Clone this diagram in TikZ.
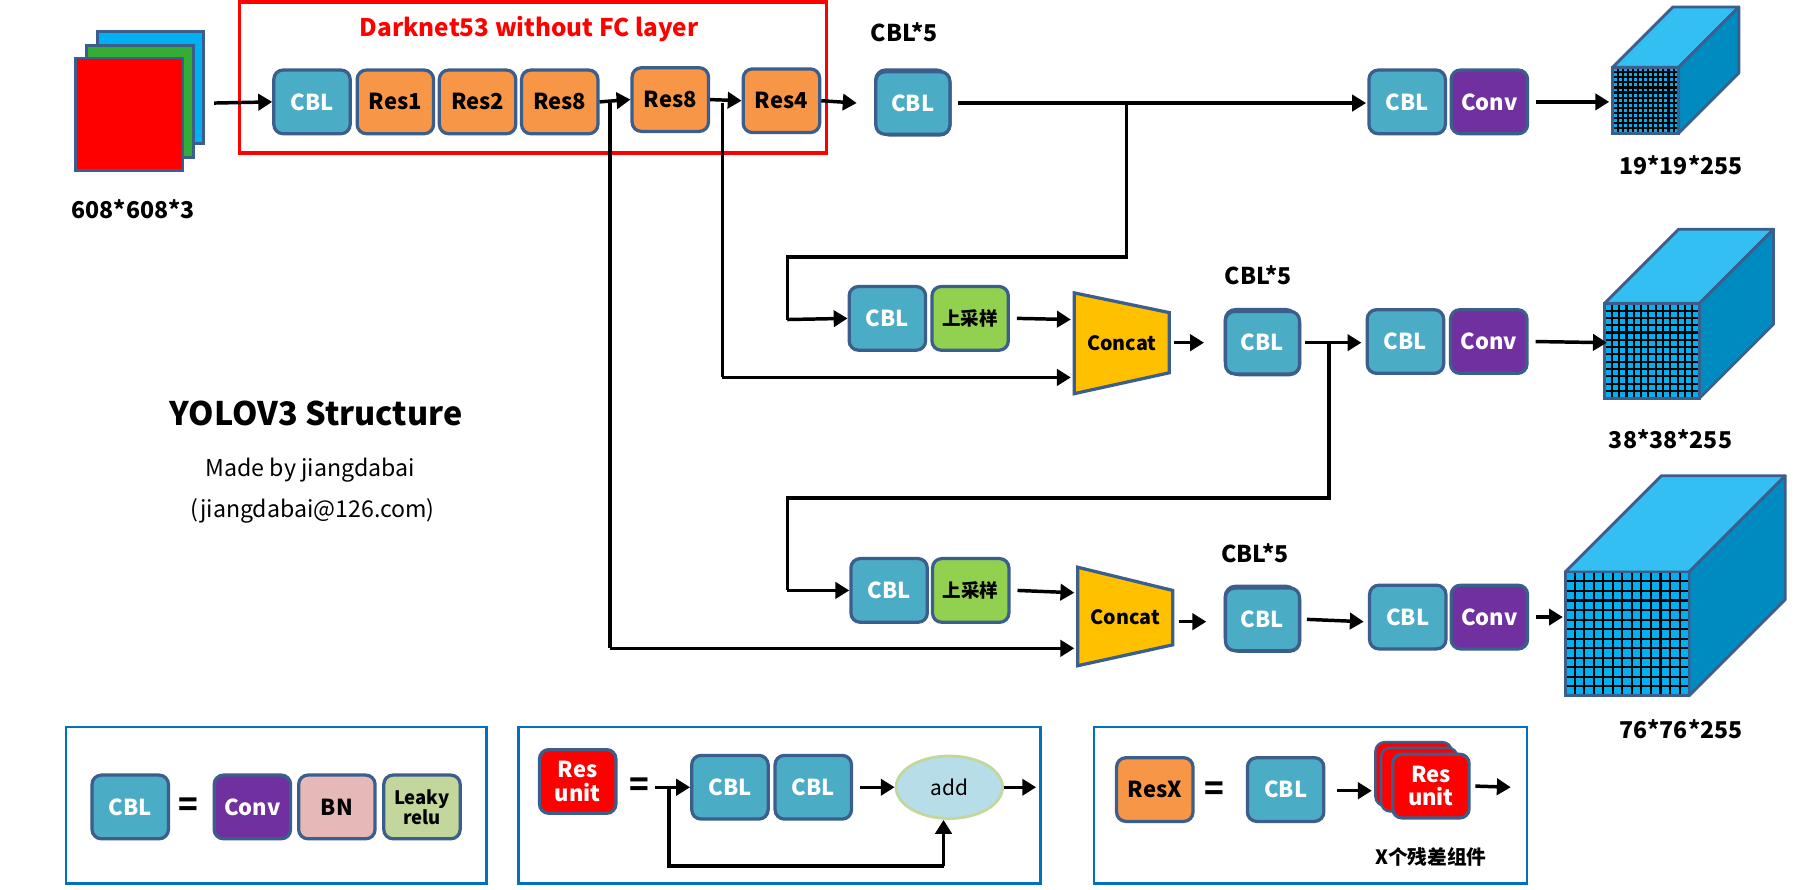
\documentclass[tikz,border=0pt]{standalone}
\usepackage{fontspec}
\setmainfont{Noto Sans CJK SC}
\usetikzlibrary{arrows.meta,shapes.geometric}
\definecolor{bd}{HTML}{3B5E8C}
\definecolor{cblc}{HTML}{4BACC6}
\definecolor{resc}{HTML}{F79646}
\definecolor{convc}{HTML}{7030A0}
\definecolor{upc}{HTML}{92D050}
\definecolor{bnc}{HTML}{E6B9B8}
\definecolor{lrc}{HTML}{C3D69B}
\definecolor{cubef}{HTML}{00B0F0}
\definecolor{cubet}{HTML}{33BFF2}
\definecolor{cubes}{HTML}{008BC0}
\definecolor{legc}{HTML}{0070C0}
\definecolor{concc}{HTML}{FFC000}
\begin{document}
\begin{tikzpicture}[x=0.5pt,y=-0.5pt,
 blk/.style={draw=bd,line width=1.4pt,rounded corners=4pt,minimum width=33pt,minimum height=27.5pt,inner sep=0pt,font=\bfseries\fontsize{9.5}{10}\selectfont,align=center},
 cb/.style={blk,fill=cblc,text=white},
 rs/.style={blk,fill=resc,text=black},
 cv/.style={blk,fill=convc,text=white},
 up/.style={blk,fill=upc,text=black,font=\bfseries\fontsize{8}{9}\selectfont},
 ru/.style={blk,fill=red,text=white,draw=bd},
 ar/.style={line width=1.5pt,-{Triangle[length=6pt,width=7pt]}},
 ln/.style={line width=1.5pt},
 lbl/.style={font=\bfseries\fontsize{10}{12}\selectfont},
 leg/.style={draw=legc,line width=1.2pt}]
\useasboundingbox (0,0) rectangle (1560,768);
% input
\fill[cubef,draw=bd,line width=1.2pt] (84,27) rectangle (176,124);
\fill[green!60!black!80,draw=bd,line width=1.2pt] (75,39) rectangle (167,136);
\fill[red,draw=bd,line width=1.2pt] (65,50) rectangle (158,147);
\node[lbl] (inlbl) at (115,181) {608*608*3};
\coordinate (inp) at (185,89);
% darknet
\draw[red,line width=1.6pt] (207,2) rectangle (714,132);
\node[text=red,font=\bfseries\fontsize{10.5}{12}\selectfont] (dt) at (457,25) {Darknet53 without FC layer};
\node[cb] (c0) at (269.5,88) {CBL};
\node[rs] (r1) at (341.5,88) {Res1};
\node[rs] (r2) at (412.5,88) {Res2};
\node[rs] (r3) at (483.5,88) {Res8};
\node[rs] (r4) at (579,86) {Res8};
\node[rs] (r5) at (675,87) {Res4};
\draw[ar] (inp) -- (c0.west);
\draw[ar] (r3.east) -- (r4.west);
\draw[ar] (r4.east) -- (r5.west);
% stack macro
\newcommand\cblstack[3]{%
 \fill[bd,rounded corners=5pt] (#1-67,#2-29) rectangle (#1-3,#2+27);
 \fill[bd,rounded corners=5pt] (#1-64,#2-26) rectangle (#1,#2+30);
 \draw[cblc!70,line width=0.6pt] (#1-60,#2-17) arc (180:90:6);
 \draw[cblc!70,line width=0.6pt] (#1-57,#2-14) arc (180:90:6);
 \draw[cblc!70,line width=0.6pt] (#1-54,#2-11) arc (180:90:6);
 \node[cb,minimum width=32pt,minimum height=27pt] (#3) at (#1-33.5,#2+1) {CBL};}
\cblstack{822}{88}{s1}
\node[lbl] (s1l) at (781,28) {CBL*5};
\draw[ar] (r5.east) -- (s1.west -| 740,0) ;
\draw[ar] (s1.east) ++(6,0) -- (1180,89) coordinate (t1);
\node[cb] (c1) at (1215.5,88) {CBL};
\node[cv] (v1) at (1286.5,88) {Conv};
\draw[ar] (v1.east) ++(6,0) -- (1390,88);
% cubes
\newcommand\cube[5]{% x1 y1 x2 y2 depth
 \fill[cubet,draw=bd,line width=1.2pt,line join=round] (#1,#2) -- (#1+#5,#2-#5) -- (#3+#5,#2-#5) -- (#3,#2) -- cycle;
 \fill[cubes,draw=bd,line width=1.2pt,line join=round] (#3,#2) -- (#3+#5,#2-#5) -- (#3+#5,#4-#5) -- (#3,#4) -- cycle;
 \fill[cubef] (#1,#2) rectangle (#3,#4);
 \foreach \i in {1,...,12} {\draw[black,line width=0.9pt] ({#1+(#3-#1)*\i/13},#2) -- ({#1+(#3-#1)*\i/13},#4);
  \draw[black,line width=0.9pt] (#1,{#2+(#4-#2)*\i/13}) -- (#3,{#2+(#4-#2)*\i/13});}
 \draw[bd,line width=1.2pt] (#1,#2) rectangle (#3,#4);}
\cube{1393}{58}{1450}{115}{52}
\node[lbl] (o1) at (1452,143) {19*19*255};
\cube{1386}{262}{1468}{344}{64}
\node[lbl] (o2) at (1443,379) {38*38*255};
\cube{1352}{494}{1459}{601}{83}
\node[lbl] (o3) at (1452,630) {76*76*255};
% branch 2
\coordinate (k1) at (973,89);
\coordinate (k2) at (680,222);
\node[cb] (c2) at (766.5,275) {CBL};
\node[up] (u2) at (838,275) {上采样};
\draw[ln] (k1) -- (973,222) -- (k2) -- (680,276);
\draw[ar] (680,276) -- (c2.west);
\draw[fill=concc,draw=bd,line width=1.4pt] (928,253) -- (1010,270) -- (1010,322) -- (928,340) -- cycle;
\node[font=\bfseries\fontsize{8.5}{9}\selectfont] (cc1) at (969,296) {Concat};
\draw[ar] (u2.east) ++(6,0) -- (925,276);
\coordinate (b2) at (624,89);
\draw[ln] (b2) -- (624,326);
\draw[ar] (624,326) -- (925,326);
\cblstack{1124}{295}{s2}
\node[lbl] (s2l) at (1087,238) {CBL*5};
\draw[ar] (1014,296) -- (1040,296);
\node[cb] (c3) at (1214,295) {CBL};
\node[cv] (v3) at (1286,295) {Conv};
\draw[ar] (s2.east) ++(3,0) -- (1176,296);
\draw[ar] (v3.east) ++(6,0) -- (1388,296);
% branch 3
\coordinate (k3) at (1148,296);
\draw[ln] (k3) -- (1148,430) -- (680,430) -- (680,510);
\node[cb] (c4) at (768,510) {CBL};
\node[up] (u4) at (838.5,510) {上采样};
\draw[ar] (680,510) -- (c4.west);
\draw[fill=concc,draw=bd,line width=1.4pt] (931,490) -- (1013,510) -- (1013,557) -- (931,575) -- cycle;
\node[font=\bfseries\fontsize{8.5}{9}\selectfont] (cc2) at (972,533) {Concat};
\draw[ar] (u4.east) ++(6,0) -- (928,512);
\coordinate (b1) at (527,89);
\draw[ln] (b1) -- (527,560);
\draw[ar] (527,560) -- (928,560);
\cblstack{1124}{534}{s3}
\node[lbl] (s3l) at (1084,478) {CBL*5};
\draw[ar] (1018,537) -- (1042,537);
\node[cb] (c5) at (1216,533) {CBL};
\node[cv] (v5) at (1286.5,533) {Conv};
\draw[ar] (s3.east) ++(5,0) -- (1178,537);
\draw[ar] (v5.east) ++(6,0) -- (1350,533);
% text
\node[font=\bfseries\fontsize{14}{16}\selectfont] (tt) at (273,357) {YOLOV3 Structure};
\node[font=\fontsize{10}{12}\selectfont] (t2) at (268,406) {Made by jiangdabai};
\node[font=\fontsize{10}{12}\selectfont] (t3) at (270,441) {(jiangdabai@126.com)};
% legend 1
\draw[leg] (57,628) rectangle (420,763);
\node[cb] (l1a) at (112.5,697) {CBL};
\node[font=\bfseries\fontsize{14}{14}\selectfont] (eq1) at (163,697) {=};
\node[cv] (l1b) at (218,697) {Conv};
\node[blk,fill=bnc] (l1c) at (291,697) {BN};
\node[blk,fill=lrc,font=\bfseries\fontsize{8}{8.5}\selectfont] (l1d) at (364.5,697) {Leaky\\relu};
% legend 2
\draw[leg] (448,628) rectangle (899,763);
\node[ru] (l2a) at (499,675) {Res\\unit};
\node[font=\bfseries\fontsize{14}{14}\selectfont] (eq2) at (552,680) {=};
\node[cb] (l2b) at (630.5,680) {CBL};
\node[cb] (l2c) at (702.5,680) {CBL};
\node[ellipse,fill=cblc!40,draw=lrc,line width=1.2pt,minimum width=46pt,minimum height=27pt,font=\fontsize{9}{10}\selectfont] (add) at (820,680) {add};
\coordinate (l2in) at (566,680);
\draw[ar] (l2in) -- (l2b.west);
\draw[ar] (l2c.east) ++(6,0) -- (add.west);
\draw[ar] (add.east) -- (895,680);
\draw[ln] (578,680) -- (578,748) -- (815,748);
\draw[ar] (815,748) -- (add.south -| 815,0);
% legend 3
\draw[leg] (945,628) rectangle (1319,763);
\node[rs] (l3a) at (997.5,682) {ResX};
\node[font=\bfseries\fontsize{14}{14}\selectfont] (eq3) at (1049,683) {=};
\node[cb] (l3b) at (1110.5,682) {CBL};
\fill[red,draw=bd,line width=1pt,rounded corners=4pt] (1188,641) rectangle (1254,696);
\fill[red,draw=bd,line width=1pt,rounded corners=4pt] (1193,646) rectangle (1259,701);
\node[ru,minimum width=33pt,minimum height=27.5pt] (l3c) at (1236,679) {Res\\unit};
\draw[ar] (l3b.east) ++(10,1) -- (1185,683);
\draw[ar] (l3c.east) ++(4,0) -- (1305,680);
\node[font=\bfseries\fontsize{8.5}{10}\selectfont] (l3t) at (1236,740) {X个残差组件};
\end{tikzpicture}
\end{document}
